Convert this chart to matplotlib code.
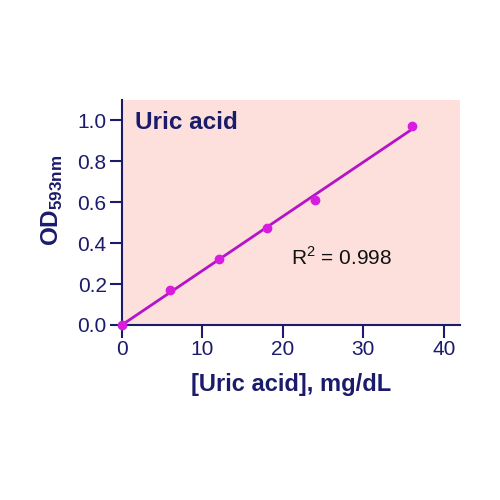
import matplotlib
matplotlib.use('Agg')
import matplotlib.pyplot as plt
import numpy as np

plt.rcParams['font.family'] = ['Liberation Sans', 'DejaVu Sans']
plt.rcParams['mathtext.fontset'] = 'custom'
plt.rcParams['mathtext.rm'] = 'Liberation Sans'
plt.rcParams['mathtext.bf'] = 'Liberation Sans:bold'

# data
conc = [0, 6, 12, 18, 24, 36]
od = [0.0, 0.172, 0.322, 0.474, 0.609, 0.974]
x_ticks = [0, 10, 20, 30, 40]
y_ticks = [0.0, 0.2, 0.4, 0.6, 0.8, 1.0]

NAVY = '#1b1b6b'
BG = '#fde0dc'
LINE = '#b414c8'
DOT = '#d81ce0'

fig = plt.figure(figsize=(5, 5), dpi=100)
ax = fig.add_axes([0.244, 0.35, 0.676, 0.45])
ax.set_facecolor(BG)

slope, icpt = np.polyfit(conc, od, 1)
fit_x = np.array([conc[0], conc[-1]])
ax.plot(fit_x, slope * fit_x + icpt, color=LINE, lw=2, zorder=3)
ax.plot(conc, od, 'o', color=DOT, ms=6, zorder=4, clip_on=False)

ax.set_xlim(0, 42)
ax.set_ylim(0, 1.1)
ax.set_xticks(x_ticks)
ax.set_yticks(y_ticks)
ax.set_yticklabels([f'{v:.1f}' for v in y_ticks])

for s in ['top', 'right']:
    ax.spines[s].set_visible(False)
for s in ['left', 'bottom']:
    ax.spines[s].set_color(NAVY)
    ax.spines[s].set_linewidth(1.5)
ax.tick_params(colors=NAVY, labelsize=15, length=9, width=1.5, pad=2)

ax.text(1.6, 0.99, 'Uric acid', color=NAVY, fontsize=17.5, fontweight='bold',
        va='center', ha='left')
ax.text(21, 0.33, r'R$^2$ = 0.998', color='#111111', fontsize=15,
        va='center', ha='left')

ax.set_xlabel('[Uric acid], mg/dL', color=NAVY, fontsize=17,
              fontweight='bold', labelpad=10)
ax.set_ylabel(r'OD$_{\mathbf{593nm}}$', color=NAVY, fontsize=17.5,
              fontweight='bold')
ax.yaxis.set_label_coords(-0.17, 0.555)

fig.savefig('out.png', dpi=100, facecolor='white')
